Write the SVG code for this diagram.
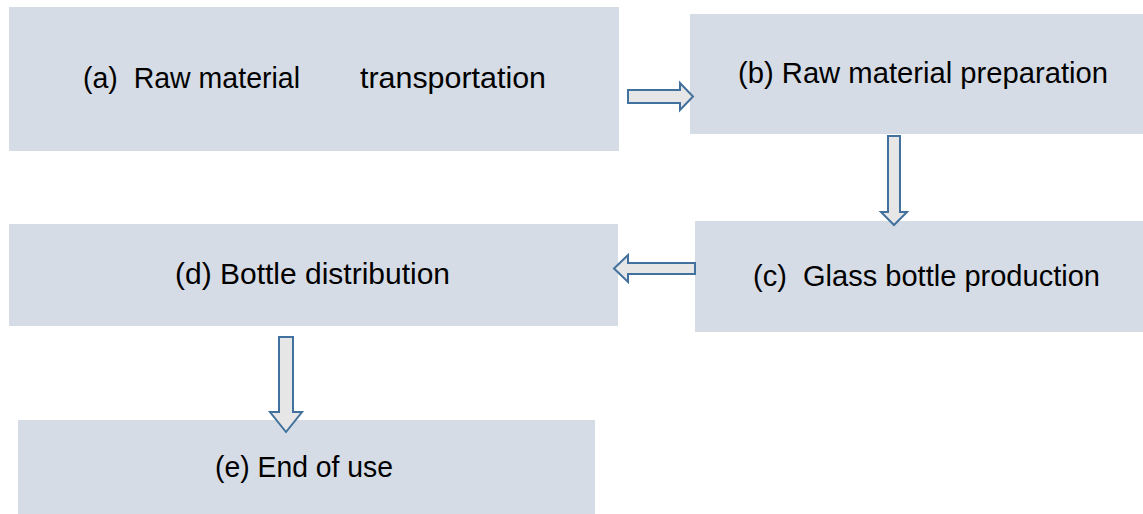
<svg xmlns="http://www.w3.org/2000/svg" width="1143" height="514" viewBox="0 0 1143 514">
<style>
.box{fill:#D6DCE5;}
.t{font-family:"Liberation Sans",Arial,sans-serif;font-size:29px;fill:#000;}
.arr{fill:#E7E6E6;stroke:#41719C;stroke-width:2;stroke-linejoin:miter;}
</style>
<rect width="1143" height="514" fill="#FFFFFF"/>
<g id="node-a">
<rect class="box" x="9" y="7" width="610" height="144"/>
<text class="t" x="83" y="88" textLength="217" lengthAdjust="spacingAndGlyphs" xml:space="preserve">(a)  Raw material</text>
<text class="t" x="360" y="88" textLength="186" lengthAdjust="spacingAndGlyphs">transportation</text>
</g>
<g id="node-b">
<rect class="box" x="690" y="14" width="453" height="120"/>
<text class="t" x="738" y="83" textLength="370" lengthAdjust="spacingAndGlyphs">(b) Raw material preparation</text>
</g>
<g id="node-c">
<rect class="box" x="695" y="221" width="448" height="111"/>
<text class="t" x="753" y="286" textLength="347" lengthAdjust="spacingAndGlyphs" xml:space="preserve">(c)  Glass bottle production</text>
</g>
<g id="node-d">
<rect class="box" x="9" y="224" width="609" height="102"/>
<text class="t" x="175" y="284" textLength="275" lengthAdjust="spacingAndGlyphs">(d) Bottle distribution</text>
</g>
<g id="node-e">
<rect class="box" x="18" y="420" width="577" height="94"/>
<text class="t" x="215" y="477" textLength="178" lengthAdjust="spacingAndGlyphs">(e) End of use</text>
</g>
<g id="connectors">
<path class="arr" d="M628,90 H680 V83 L693,96.5 L680,110 V103 H628 Z"/>
<path class="arr" d="M888,136 H900 V212 H907 L894,225 L881,212 H888 Z"/>
<path class="arr" d="M695,263 H628 V255 L614,268.5 L628,282 V274 H695 Z"/>
<path class="arr" d="M279,337 H293 V412 H302 L286,432 L270,412 H279 Z"/>
</g>
</svg>
